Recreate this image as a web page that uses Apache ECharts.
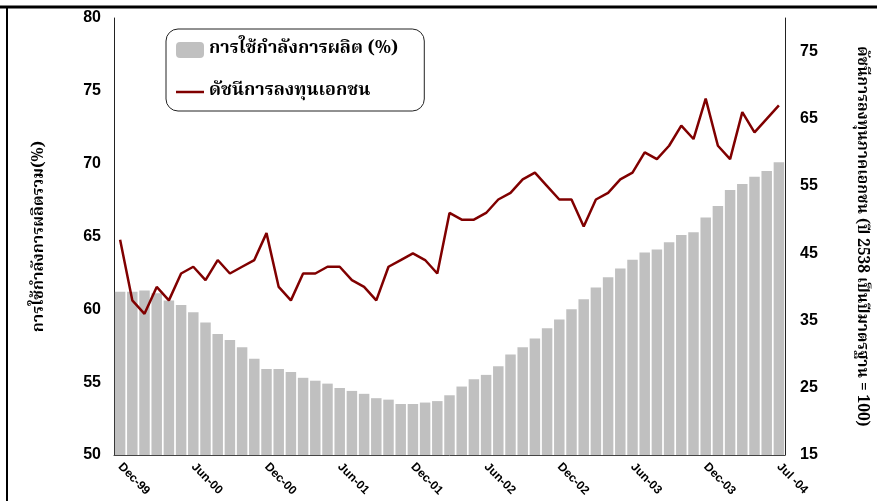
<!DOCTYPE html>
<html>
<head>
<meta charset="utf-8">
<script src="https://cdn.jsdelivr.net/npm/echarts@6/dist/echarts.min.js"></script>
<style>
	html, body { margin: 0; padding: 0; background: #fff; }
	#chart { width: 877px; height: 501px; }
</style>
</head>
<body>
<div id="chart"></div>
<script>
// months Dec-99 .. Jul-04 (labels as printed on the axis)
const categories = [
	"Dec-99",
	"Jan-00", "Feb-00", "Mar-00", "Apr-00", "May-00", "Jun-00", "Jul-00", "Aug-00", "Sep-00", "Oct-00", "Nov-00", "Dec-00",
	"Jan-01", "Feb-01", "Mar-01", "Apr-01", "May-01", "Jun-01", "Jul-01", "Aug-01", "Sep-01", "Oct-01", "Nov-01", "Dec-01",
	"Jan-02", "Feb-02", "Mar-02", "Apr-02", "May-02", "Jun-02", "Jul-02", "Aug-02", "Sep-02", "Oct-02", "Nov-02", "Dec-02",
	"Jan-03", "Feb-03", "Mar-03", "Apr-03", "May-03", "Jun-03", "Jul-03", "Aug-03", "Sep-03", "Oct-03", "Nov-03", "Dec-03",
	"Jan-04", "Feb-04", "Mar-04", "Apr-04", "May-04", "Jul -04"
];

// การใช้กำลังการผลิต (%) - left axis
const capacityUse = [
	61.2, 61.2, 61.3, 61.1, 60.6, 60.3, 59.8, 59.1, 58.3, 57.9,
	57.4, 56.6, 55.9, 55.9, 55.7, 55.3, 55.1, 54.9, 54.6, 54.4,
	54.2, 53.9, 53.8, 53.5, 53.5, 53.6, 53.7, 54.1, 54.7, 55.2,
	55.5, 56.1, 56.9, 57.4, 58.0, 58.7, 59.3, 60.0, 60.7, 61.5,
	62.2, 62.8, 63.4, 63.9, 64.1, 64.6, 65.1, 65.3, 66.3, 67.1,
	68.2, 68.6, 69.1, 69.5, 70.1
];

// ดัชนีการลงทุนเอกชน - right axis
const investIndex = [
	47, 38, 36, 40, 38, 42, 43, 41, 44, 42, 43, 44, 48,
	40, 38, 42, 42, 43, 43, 41, 40, 38, 43, 44, 45, 44, 42,
	51, 50, 50, 51, 53, 54, 56, 57, 55, 53, 53, 49, 53, 54, 56, 57,
	60, 59, 61, 64, 62, 68, 61, 59, 66, 63, 65, 67
];

const leftTicks = [50, 55, 60, 65, 70, 75, 80];
const rightTicks = [15, 25, 35, 45, 55, 65, 75];

const barName = "การใช้กำลังการผลิต (%)";
const lineName = "ดัชนีการลงทุนเอกชน";

const thaiFont = "'Noto Serif Thai', Norasi, Laksaman, Tahoma, 'Noto Sans Thai', serif";

const chart = echarts.init(document.getElementById("chart"));

const option = {
	backgroundColor: "#fff",
	animation: false,
	grid: {
		left: 114,
		right: 92,
		top: 18,
		bottom: 46,
	},
	legend: {
		left: 166,
		top: 29,
		orient: "vertical",
		data: [
			{ name: barName },
			// plain line swatch, no point marker
			{ name: lineName, icon: "path://M0,0H28V2.5H0Z" },
		],
		borderColor: "#222",
		borderWidth: 1,
		borderRadius: 12,
		padding: [12, 26, 10, 10],
		itemWidth: 28,
		itemHeight: 16,
		itemGap: 24,
		textStyle: {
			fontFamily: thaiFont,
			fontWeight: "bold",
			fontSize: 18,
			color: "#000",
		},
	},
	xAxis: {
		type: "category",
		data: categories,
		boundaryGap: true,
		axisLine: { lineStyle: { color: "#444", width: 1 } },
		axisTick: { show: false },
		axisLabel: {
			interval: (i) => i % 6 === 0,
			rotate: -45,
			margin: 10,
			color: "#000",
			fontFamily: "Liberation Sans, Arial, sans-serif",
			fontWeight: "bold",
			fontSize: 12,
		},
	},
	yAxis: [
		{
			type: "value",
			min: 50,
			max: 80,
			interval: 5,
			position: "left",
			name: "การใช้กำลังการผลิตรวม(%)",
			nameLocation: "middle",
			nameRotate: 90,
			nameGap: 66,
			nameTextStyle: {
				fontFamily: thaiFont,
				fontWeight: "bold",
				fontSize: 16,
				color: "#000",
			},
			axisLine: { show: true, lineStyle: { color: "#222", width: 1 } },
			axisTick: { show: false },
			splitLine: { show: false },
			axisLabel: {
				margin: 13,
				color: "#000",
				fontFamily: "Liberation Sans, Arial, sans-serif",
				fontWeight: "bold",
				fontSize: 16,
				formatter: (v) => (leftTicks.indexOf(v) >= 0 ? String(v) : ""),
			},
		},
		{
			type: "value",
			min: 15,
			max: 80,
			interval: 5,
			position: "right",
			name: "ดัชนีการลงทุนภาคเอกชน (ปี 2538 เป็นปีมาตรฐาน = 100)",
			nameLocation: "middle",
			nameRotate: -90,
			nameGap: 68,
			nameTextStyle: {
				fontFamily: thaiFont,
				fontWeight: "bold",
				fontSize: 15.5,
				color: "#000",
			},
			axisLine: { show: true, lineStyle: { color: "#222", width: 1 } },
			axisTick: { show: false },
			splitLine: { show: false },
			axisLabel: {
				margin: 15,
				color: "#000",
				fontFamily: "Liberation Sans, Arial, sans-serif",
				fontWeight: "bold",
				fontSize: 16,
				// only every second tick carries a label (15, 25, ... 75)
				formatter: (v) => (rightTicks.indexOf(v) >= 0 ? String(v) : ""),
			},
		},
	],
	series: [
		{
			name: barName,
			type: "bar",
			yAxisIndex: 0,
			data: capacityUse,
			barCategoryGap: "14%",
			itemStyle: { color: "#c0c0c0" },
		},
		{
			name: lineName,
			type: "line",
			yAxisIndex: 1,
			data: investIndex,
			symbol: "none",
			lineStyle: { color: "#800000", width: 2.5 },
			itemStyle: { color: "#800000" },
		},
	],
	// page frame from the source slide
	graphic: [
		{
			type: "line",
			shape: { x1: 0, y1: 7, x2: 877, y2: 7 },
			style: { stroke: "#000", lineWidth: 3 },
		},
		{
			type: "line",
			shape: { x1: 7, y1: 6, x2: 7, y2: 501 },
			style: { stroke: "#000", lineWidth: 2 },
		},
	],
};

chart.setOption(option);
</script>
</body>
</html>
